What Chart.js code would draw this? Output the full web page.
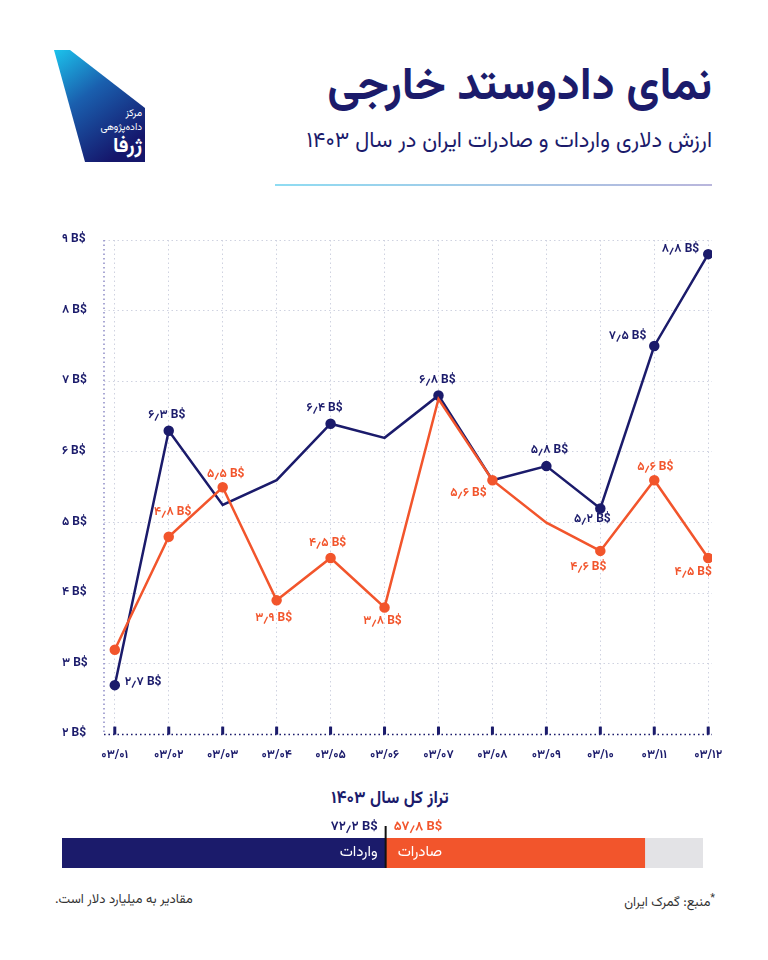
<!DOCTYPE html>
<html lang="fa">
<head>
<meta charset="utf-8">
<script src="https://cdn.jsdelivr.net/npm/chart.js@4.4.1/dist/chart.umd.min.js"></script>
<style>
    html, body { margin: 0; padding: 0; background: #fff; }
    body { width: 768px; height: 960px; position: relative; overflow: hidden; font-family: "Vazirmatn", "Noto Sans Arabic", "DejaVu Sans", sans-serif; color: #1b1b6b; }
    .abs { position: absolute; }
    #title { right: 56px; top: 52px; font-size: 46px; font-weight: bold; direction: rtl; white-space: nowrap; }
    #subtitle { right: 56px; top: 124px; font-size: 22px; direction: rtl; white-space: nowrap; }
    #rule { left: 275px; top: 184px; width: 437px; height: 2px; background: linear-gradient(to right, #8fdcf2, #b9b6dc); }
    #lineBox { left: 62px; top: 225px; width: 706px; height: 552px; }
    #balTitle { left: 300px; width: 180px; top: 786px; text-align: center; font-size: 17px; font-weight: bold; direction: rtl; }
    #barBox { left: 62px; top: 818px; width: 641px; height: 50px; }
    #source { right: 53px; top: 890px; font-size: 13px; direction: rtl; color: #333; }
    #note { left: 55px; top: 890px; font-size: 13px; direction: rtl; color: #333; }
</style>
</head>
<body>
<svg class="abs" style="left:45px;top:40px" width="120" height="140" viewBox="0 0 120 140">
    <defs>
        <linearGradient id="lg" x1="0" y1="0" x2="0.6" y2="1">
            <stop offset="0" stop-color="#1cc3ec"/>
            <stop offset="0.45" stop-color="#1a5fae"/>
            <stop offset="1" stop-color="#15166b"/>
        </linearGradient>
    </defs>
    <polygon points="9,10 25,10 100,68 100,122 40,122" fill="url(#lg)"/>
    <text x="97" y="76" fill="#fff" font-size="10" text-anchor="end">مرکز</text>
    <text x="97" y="90" fill="#fff" font-size="10" text-anchor="end">داده‌پژوهی</text>
    <text x="97" y="112" fill="#fff" font-size="21" font-weight="bold" text-anchor="end">ژرفا</text>
</svg>
<div id="title" class="abs">نمای دادوستد خارجی</div>
<div id="subtitle" class="abs">ارزش دلاری واردات و صادرات ایران در سال ۱۴۰۳</div>
<div id="rule" class="abs"></div>
<div id="lineBox" class="abs"><canvas id="chartLine"></canvas></div>
<div id="balTitle" class="abs">تراز کل سال ۱۴۰۳</div>
<div id="barBox" class="abs"><canvas id="chartBar"></canvas></div>
<div id="source" class="abs"><sup>*</sup>منبع: گمرک ایران</div>
<div id="note" class="abs">مقادیر به میلیارد دلار است.</div>

<script>
(function () {
    "use strict";

    const months = ["۰۳/۰۱", "۰۳/۰۲", "۰۳/۰۳", "۰۳/۰۴", "۰۳/۰۵", "۰۳/۰۶", "۰۳/۰۷", "۰۳/۰۸", "۰۳/۰۹", "۰۳/۱۰", "۰۳/۱۱", "۰۳/۱۲"];
    const imports = [2.7, 6.3, 5.25, 5.6, 6.4, 6.2, 6.8, 5.6, 5.8, 5.2, 7.5, 8.8];
    const exports = [3.2, 4.8, 5.5, 3.9, 4.5, 3.8, 6.75, 5.6, 5.0, 4.6, 5.6, 4.5];
    const yTicks = [2, 3, 4, 5, 6, 7, 8, 9];
    const importsTotal = [72.2];
    const exportsTotal = [57.8];

    const palette = {
        navy: "#1b1b6b",
        orange: "#f2552c",
        grid: "#cfd2e0",
        axisLeft: "#8e8cc6",
        track: "#e3e3e6",
        font: "'Vazirmatn', 'Noto Sans Arabic', 'DejaVu Sans', sans-serif"
    };

    const fa = (v) => String(v).replace(/\d/g, (d) => "۰۱۲۳۴۵۶۷۸۹"[d]).replace(".", "٫");

    // label placement per point: [dx, dy, align] or null
    const importLabels = [[10, -2, "left"], [-2, -15, "center"], null, null, [-6, -15, "center"], null, [-1, -14, "center"], null, [3, -15, "center"], [-8, 12, "center"], [-8, -9, "right"], [-9, -4, "right"]];
    const exportLabels = [null, [4, -24, "center"], [3, -12, "center"], [-3, 19, "center"], [-3, -14, "center"], [-2, 15, "center"], null, [-24, 14, "center"], null, [-12, 17, "center"], [1, -12, "center"], [-15, 15, "center"]];
    const importDots = [4, 4, 0, 0, 4, 0, 4, 0, 4, 4, 4, 4];
    const exportDots = [4, 4, 4, 4, 4, 4, 0, 4, 0, 4, 4, 4];

    const pointLabels = {
        id: "pointLabels",
        afterDatasetsDraw(chart) {
            const ctx = chart.ctx;
            ctx.save();
            ctx.font = "bold 12px " + palette.font;
            ctx.textBaseline = "middle";
            chart.data.datasets.forEach((ds, i) => {
                const meta = chart.getDatasetMeta(i);
                ds.labelPos.forEach((p, j) => {
                    if (!p) return;
                    const pt = meta.data[j];
                    ctx.fillStyle = ds.borderColor;
                    ctx.textAlign = p[2];
                    ctx.fillText(fa(ds.data[j].y) + " B$", pt.x + p[0], pt.y + p[1]);
                });
            });
            ctx.restore();
        }
    };

    // dotted frame on left and bottom, plus short tick bars on the x axis
    const axisDecor = {
        id: "axisDecor",
        beforeDatasetsDraw(chart) {
            const a = chart.chartArea, ctx = chart.ctx;
            ctx.save();
            ctx.lineWidth = 1.5;
            ctx.setLineDash([1.5, 3]);
            ctx.strokeStyle = palette.axisLeft;
            ctx.beginPath();
            ctx.moveTo(a.left, a.top);
            ctx.lineTo(a.left, a.bottom);
            ctx.stroke();
            ctx.strokeStyle = palette.navy;
            ctx.beginPath();
            ctx.moveTo(a.left, a.bottom);
            ctx.lineTo(a.right, a.bottom);
            ctx.stroke();
            ctx.restore();
        },
        afterDraw(chart) {
            const x = chart.scales.x, ctx = chart.ctx;
            ctx.save();
            ctx.fillStyle = palette.navy;
            x.ticks.forEach((t) => {
                const px = x.getPixelForValue(t.value);
                ctx.fillRect(px - 1.5, chart.chartArea.bottom - 8, 3, 8);
            });
            ctx.restore();
        }
    };

    new Chart(document.getElementById("chartLine"), {
        type: "line",
        data: {
            datasets: [
                {
                    label: "صادرات",
                    data: exports.map((v, i) => ({ x: i, y: v })),
                    borderColor: palette.orange,
                    backgroundColor: palette.orange,
                    borderWidth: 2.5,
                    pointRadius: exportDots,
                    pointHoverRadius: exportDots,
                    tension: 0,
                    labelPos: exportLabels
                },
                {
                    label: "واردات",
                    data: imports.map((v, i) => ({ x: i, y: v })),
                    borderColor: palette.navy,
                    backgroundColor: palette.navy,
                    borderWidth: 2.5,
                    pointRadius: importDots,
                    pointHoverRadius: importDots,
                    tension: 0,
                    labelPos: importLabels
                }
            ]
        },
        options: {
            responsive: true,
            maintainAspectRatio: false,
            animation: false,
            layout: { padding: { top: 15, right: 56, bottom: 0, left: 0 } },
            plugins: { legend: { display: false }, tooltip: { enabled: false } },
            scales: {
                x: {
                    type: "linear",
                    min: -0.2,
                    max: 11.07,
                    afterBuildTicks: (s) => { s.ticks = months.map((m, i) => ({ value: i })); },
                    ticks: {
                        callback: (v) => months[v],
                        color: palette.navy,
                        font: { family: palette.font, size: 12, weight: "bold" },
                        padding: 14,
                        maxRotation: 0
                    },
                    grid: { color: palette.grid, drawTicks: false, lineWidth: 1 },
                    border: { display: false, dash: [1.5, 3] }
                },
                y: {
                    min: 2,
                    max: 9,
                    afterBuildTicks: (s) => { s.ticks = yTicks.map((v) => ({ value: v })); },
                    afterFit: (s) => { s.width = 42; },
                    ticks: {
                        callback: (v) => fa(v) + " B$",
                        color: palette.navy,
                        crossAlign: "far",
                        font: { family: palette.font, size: 12, weight: "bold" }
                    },
                    grid: { color: palette.grid, drawTicks: false, lineWidth: 1 },
                    border: { display: false, dash: [1.5, 3] }
                }
            }
        },
        plugins: [pointLabels, axisDecor]
    });

    const barDecor = {
        id: "barDecor",
        beforeDatasetsDraw(chart) {
            const a = chart.chartArea, ctx = chart.ctx;
            ctx.save();
            ctx.fillStyle = palette.track;
            ctx.fillRect(a.left, a.top, a.right - a.left, a.bottom - a.top);
            ctx.restore();
        },
        afterDatasetsDraw(chart) {
            const ctx = chart.ctx, a = chart.chartArea;
            const split = chart.getDatasetMeta(0).data[0].x;
            const mid = (a.top + a.bottom) / 2;
            ctx.save();
            ctx.fillStyle = "#111";
            ctx.fillRect(split - 1, a.top - 12, 2, a.bottom - a.top + 12);
            ctx.font = "bold 13px " + palette.font;
            ctx.textBaseline = "middle";
            ctx.fillStyle = palette.navy;
            ctx.textAlign = "right";
            ctx.fillText(fa(importsTotal[0]) + " B$", split - 8, a.top - 10);
            ctx.fillStyle = palette.orange;
            ctx.textAlign = "left";
            ctx.fillText(fa(exportsTotal[0]) + " B$", split + 8, a.top - 10);
            ctx.font = "15px " + palette.font;
            ctx.fillStyle = "#fff";
            ctx.textAlign = "right";
            ctx.fillText("واردات", split - 8, mid + 1);
            ctx.textAlign = "left";
            ctx.fillText("صادرات", split + 12, mid + 1);
            ctx.restore();
        }
    };

    new Chart(document.getElementById("chartBar"), {
        type: "bar",
        data: {
            labels: ["تراز"],
            datasets: [
                { label: "واردات", data: importsTotal, backgroundColor: palette.navy, barPercentage: 1, categoryPercentage: 1 },
                { label: "صادرات", data: exportsTotal, backgroundColor: palette.orange, barPercentage: 1, categoryPercentage: 1 }
            ]
        },
        options: {
            indexAxis: "y",
            responsive: true,
            maintainAspectRatio: false,
            animation: false,
            layout: { padding: { top: 20, right: 0, bottom: 0, left: 0 } },
            plugins: { legend: { display: false }, tooltip: { enabled: false } },
            scales: {
                x: { stacked: true, min: 0, max: 143, display: false },
                y: { stacked: true, display: false }
            }
        },
        plugins: [barDecor]
    });
})();
</script>
</body>
</html>
